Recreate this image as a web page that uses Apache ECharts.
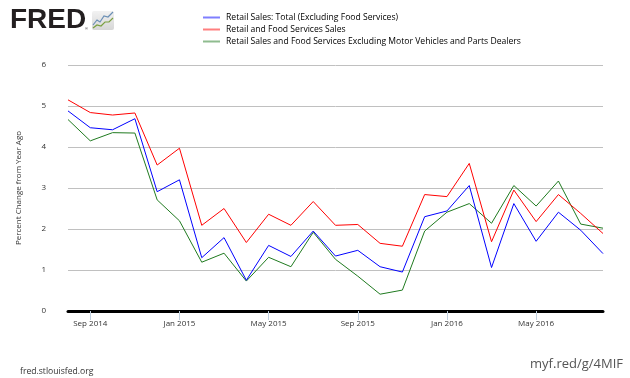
<!DOCTYPE html>
<html>
<head>
<meta charset="utf-8">
<script src="https://cdn.jsdelivr.net/npm/echarts@6/dist/echarts.min.js"></script>
<style>
  html, body { margin: 0; padding: 0; background: #fff; }
  #chart { width: 630px; height: 378px; }
</style>
</head>
<body>
<div id="chart"></div>
<script>
// months Aug 2014 .. Aug 2016
var months = [
    'Aug 2014', 'Sep 2014', 'Oct 2014', 'Nov 2014', 'Dec 2014',
    'Jan 2015', 'Feb 2015', 'Mar 2015', 'Apr 2015', 'May 2015', 'Jun 2015', 'Jul 2015',
    'Aug 2015', 'Sep 2015', 'Oct 2015', 'Nov 2015', 'Dec 2015',
    'Jan 2016', 'Feb 2016', 'Mar 2016', 'Apr 2016', 'May 2016', 'Jun 2016', 'Jul 2016', 'Aug 2016'
];

var retailTotal = [4.88, 4.47, 4.42, 4.69, 2.91, 3.20, 1.30, 1.79, 0.75, 1.60, 1.33, 1.95,
    1.34, 1.48, 1.08, 0.95, 2.30, 2.44, 3.06, 1.06, 2.62, 1.70, 2.41, 1.97, 1.40];

var retailFood = [5.15, 4.84, 4.78, 4.83, 3.56, 3.97, 2.09, 2.50, 1.67, 2.36, 2.09, 2.67,
    2.09, 2.11, 1.65, 1.58, 2.84, 2.79, 3.60, 1.69, 2.95, 2.18, 2.84, 2.38, 1.89];

var exMotor = [4.67, 4.15, 4.35, 4.34, 2.71, 2.20, 1.19, 1.41, 0.73, 1.31, 1.08, 1.92,
    1.26, 0.85, 0.41, 0.51, 1.95, 2.41, 2.62, 2.14, 3.06, 2.56, 3.17, 2.12, 2.02];

var seriesNames = [
    'Retail Sales: Total (Excluding Food Services)',
    'Retail and Food Services Sales',
    'Retail Sales and Food Services Excluding Motor Vehicles and Parts Dealers'
];
var yTicks = [0, 1, 2, 3, 4, 5, 6];

var font = 'Open Sans';
var colors = ['#0000ff', '#ff0000', '#1f7a1f'];

// only Sep / Jan / May get a label and a tick
function showTick(i) {
    return (i - 1) % 4 === 0;
}

var chart = echarts.init(document.getElementById('chart'));

chart.setOption({
    animation: false,
    color: colors,
    textStyle: { fontFamily: font },
    grid: { left: 68, right: 27, top: 65, bottom: 67 },
    legend: {
        orient: 'vertical',
        left: 203,
        top: 13,
        padding: 0,
        itemGap: 3,
        itemWidth: 17,
        itemHeight: 2,
        icon: 'rect',
        itemStyle: { opacity: 0.5 },
        textStyle: { fontFamily: font, fontSize: 8.6, color: '#000', padding: [0, 0, 0, 1] },
        data: seriesNames
    },
    xAxis: {
        type: 'category',
        data: months,
        boundaryGap: false,
        axisLine: { show: true, onZero: false, lineStyle: { color: '#000', width: 3 } },
        axisTick: {
            show: true,
            interval: function(i) { return showTick(i); },
            length: 9,
            lineStyle: { color: '#c0d0e0', width: 1 }
        },
        axisLabel: {
            interval: function(i) { return showTick(i); },
            fontSize: 8,
            color: '#333',
            margin: 9,
            fontFamily: font
        },
        splitLine: { show: false }
    },
    yAxis: {
        type: 'value',
        min: yTicks[0],
        max: yTicks[yTicks.length - 1],
        interval: 1,
        name: 'Percent Change from Year Ago',
        nameLocation: 'middle',
        nameGap: 45,
        nameTextStyle: { fontSize: 8, color: '#333', fontFamily: font },
        axisLine: { show: false },
        axisTick: { show: false },
        axisLabel: { fontSize: 8, color: '#333', margin: 22, fontFamily: font },
        splitLine: { lineStyle: { color: '#c0c0c0', width: 1 } }
    },
    series: [
        {
            name: seriesNames[0], type: 'line', data: retailTotal,
            showSymbol: false, lineStyle: { width: 1 }, z: 3
        },
        {
            name: seriesNames[1], type: 'line', data: retailFood,
            showSymbol: false, lineStyle: { width: 1 }, z: 2
        },
        {
            name: seriesNames[2], type: 'line', data: exMotor,
            showSymbol: false, lineStyle: { width: 1 }, z: 1
        }
    ],
    graphic: [
        // FRED logo
        {
            type: 'text', left: 10, top: 6,
            style: { text: 'FRED', font: 'bold 28px "Liberation Sans"', fill: '#231f20' }
        },
        {
            type: 'text', left: 85, top: 27,
            style: { text: '®', font: '4px "Liberation Sans"', fill: '#231f20' }
        },
        {
            type: 'rect', left: 92, top: 11, z: 10,
            shape: { width: 22, height: 19, r: 2 },
            style: {
                fill: new echarts.graphic.LinearGradient(0, 0, 0, 1, [
                    { offset: 0, color: '#f2f2f2' },
                    { offset: 1, color: '#d6d6d6' }
                ])
            }
        },
        {
            type: 'polyline', z: 11,
            shape: { points: [[93, 25], [97, 20], [100, 22], [104, 16], [108, 17], [113, 12]] },
            style: { stroke: '#6b8fb5', lineWidth: 1.2, fill: null }
        },
        {
            type: 'polyline', z: 11,
            shape: { points: [[93, 28], [97, 25], [101, 26], [105, 22], [109, 22], [113, 18]] },
            style: { stroke: '#7aa040', lineWidth: 1.2, fill: null }
        },
        // footer
        {
            type: 'text', left: 20, top: 367,
            style: { text: 'fred.stlouisfed.org', font: '8.6px "Open Sans"', fill: '#333' }
        },
        {
            type: 'text', right: 7, top: 358,
            style: { text: 'myf.red/g/4MIF', font: '13px "Open Sans"', fill: '#555' }
        }
    ]
});
</script>
</body>
</html>
